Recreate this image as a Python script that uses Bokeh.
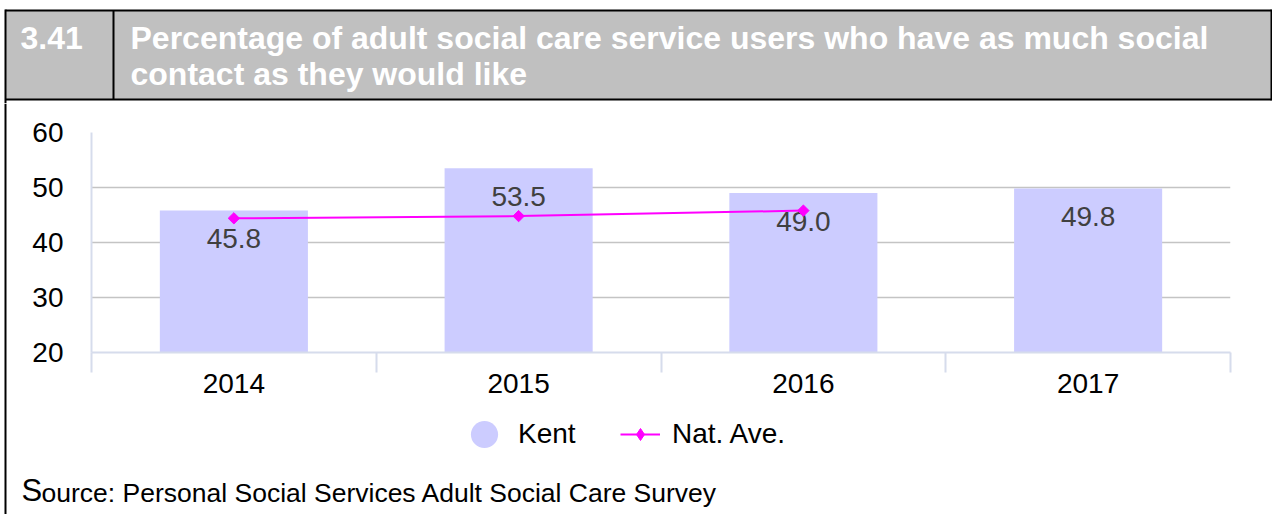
import math
from bokeh.plotting import figure
from bokeh.models import Range1d, FixedTicker, Legend, LegendItem
from bokeh.layouts import column, row
from bokeh.embed import file_html
from bokeh.resources import INLINE
from bokeh.core.properties import value

# ---- data ----
years = ["2014", "2015", "2016", "2017"]
kent = [45.8, 53.5, 49.0, 49.8]
nat_years = ["2014", "2015", "2016"]
nat_ave = [44.4, 44.8, 45.8]
y_ticks = [20, 30, 40, 50, 60]
header_num = "3.41"
title_lines = ["Percentage of adult social care service users who have as much social",
               "contact as they would like"]
source_first = "S"
source_rest = "ource: Personal Social Services Adult Social Care Survey"

FONT = "Liberation Sans"
BAR = "#ccccff"
MAG = "#ff00ff"
AX = "#d6dcec"
NAN = float("nan")


def blank(fig):
    fig.axis.visible = False
    fig.grid.visible = False
    fig.outline_line_color = None
    return fig


# ---- header (page pixel coordinates) ----
h = blank(figure(width=1272, height=103, x_range=Range1d(0, 1272),
                 y_range=Range1d(103, 0), output_backend="svg",
                 toolbar_location=None, min_border=0, frame_align=False))
h.quad(left=5, right=1271, top=10, bottom=99, fill_color="#c0c0c0", line_color=None)
h.multi_line(xs=[[5, 1271], [5, 1271], [5, 5], [113, 113], [1271, 1271]],
             ys=[[10, 10], [99, 99], [9, 103], [10, 99], [9, 100]],
             line_color="black", line_width=2)
h.text(x=[20], y=[37], text=[header_num], text_color="white",
       text_font=value(FONT), text_font_style="bold", text_font_size="32px",
       text_baseline="middle")
h.text(x=[130, 130], y=[37, 73], text=title_lines, text_color="white",
       text_font=value(FONT), text_font_style="bold", text_font_size="32px",
       text_baseline="middle")

# ---- left border strip ----
strip = blank(figure(width=7, height=411, x_range=Range1d(0, 7),
                     y_range=Range1d(411, 0), output_backend="svg",
                     toolbar_location=None, min_border=0, frame_align=False))
strip.line(x=[5, 5], y=[0, 411], line_color="black", line_width=2)

# ---- chart ----
xs = [i + 0.5 for i in range(len(years))]
nat_xs = [years.index(y) + 0.5 for y in nat_years]

p = figure(width=1265, height=307, x_range=Range1d(0, len(years)),
           y_range=Range1d(y_ticks[0], y_ticks[-1]),
           output_backend="svg", toolbar_location=None, frame_align=False,
           min_border_left=84, min_border_right=42, min_border_top=29,
           min_border_bottom=58)
p.outline_line_color = None
p.xgrid.visible = False
p.ygrid.ticker = FixedTicker(ticks=y_ticks)
p.ygrid.grid_line_color = "#c4c4c4"
p.ygrid.grid_line_width = 1.5

xa = p.xaxis[0]
xa.ticker = FixedTicker(ticks=xs, minor_ticks=list(range(len(years) + 1)))
xa.major_label_overrides = {x: y for x, y in zip(xs, years)}
xa.major_tick_out = 0
xa.major_tick_in = 0
xa.minor_tick_out = 20
xa.minor_tick_in = 0
xa.minor_tick_line_color = AX
xa.minor_tick_line_width = 2
xa.axis_line_color = AX
xa.axis_line_width = 2
xa.major_label_text_font = FONT
xa.major_label_text_font_size = "28px"
xa.major_label_text_color = "black"
xa.major_label_standoff = 1

ya = p.yaxis[0]
ya.ticker = FixedTicker(ticks=y_ticks)
ya.major_tick_out = 0
ya.major_tick_in = 0
ya.minor_tick_out = 0
ya.minor_tick_in = 0
ya.axis_line_color = AX
ya.axis_line_width = 2
ya.major_label_text_font = FONT
ya.major_label_text_font_size = "28px"
ya.major_label_text_color = "black"
ya.major_label_standoff = 28

p.vbar(x=xs, top=kent, bottom=y_ticks[0], width=0.52, fill_color=BAR,
       line_color=None)
p.text(x=xs, y=kent, text=[f"{v:.1f}" for v in kent], text_align="center",
       text_baseline="middle", y_offset=28, text_font=value(FONT),
       text_font_size="28px", text_color="#404040")
p.line(x=nat_xs, y=nat_ave, line_color=MAG, line_width=2)
p.scatter(x=nat_xs, y=nat_ave, marker="square", angle=math.pi / 4, size=8,
          fill_color=MAG, line_color=MAG)

# ---- footer: legend + source (page pixel coordinates) ----
f = blank(figure(width=1265, height=104, x_range=Range1d(7, 1272),
                 y_range=Range1d(514, 410), output_backend="svg",
                 toolbar_location=None, min_border=0, frame_align=False))
# legend swatches (not-drawn NaN points, styled like the chart series)
kent_sw = f.scatter(x=[NAN], y=[NAN], marker="circle", size=10, fill_color=BAR,
                    line_color=None)
nat_ln = f.line(x=[NAN, NAN], y=[NAN, NAN], line_color=MAG, line_width=2)
nat_mk = f.scatter(x=[NAN], y=[NAN], marker="diamond", size=10,
                   fill_color=MAG, line_color=MAG)

leg1 = Legend(items=[LegendItem(label="Kent", renderers=[kent_sw])],
              location=(443, 44), glyph_width=68, glyph_height=72,
              label_standoff=0, padding=0, margin=0, border_line_color=None,
              background_fill_alpha=0, label_text_font=FONT,
              label_text_font_size="28px", label_text_color="black")
leg2 = Legend(items=[LegendItem(label="Nat. Ave.", renderers=[nat_ln, nat_mk])],
              location=(613, 64), glyph_width=40, glyph_height=30,
              label_standoff=12, padding=0, margin=0, border_line_color=None,
              background_fill_alpha=0, label_text_font=FONT,
              label_text_font_size="28px", label_text_color="black")
f.add_layout(leg1)
f.add_layout(leg2)

f.text(x=[21], y=[490], text=[source_first], text_font=value(FONT),
       text_font_size="31px", text_color="black", text_baseline="middle")
f.text(x=[41], y=[492], text=[source_rest], text_font=value(FONT),
       text_font_size="26.5px", text_color="black", text_baseline="middle")

layout = column(h, row(strip, column(p, f, spacing=0), spacing=0), spacing=0)
open("out.html", "w").write(file_html(layout, INLINE))
